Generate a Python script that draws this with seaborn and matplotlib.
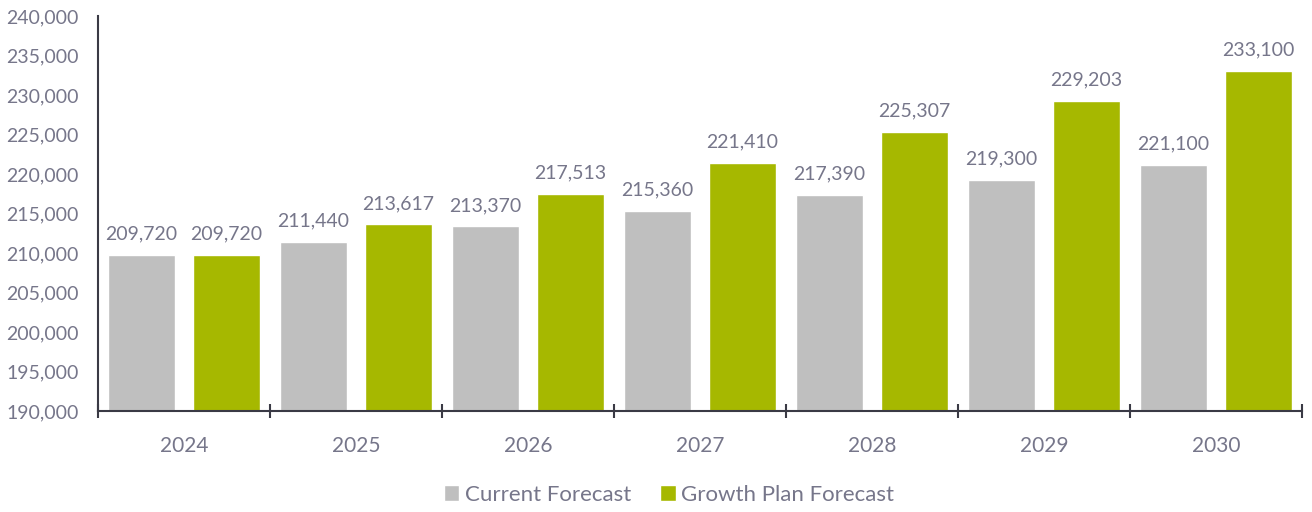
import matplotlib
matplotlib.use("Agg")
import matplotlib.pyplot as plt
import seaborn as sns
import pandas as pd

years = ["2024", "2025", "2026", "2027", "2028", "2029", "2030"]
current = [209720, 211440, 213370, 215360, 217390, 219300, 221100]
growth = [209720, 213617, 217513, 221410, 225307, 229203, 233100]
series = ["Current Forecast", "Growth Plan Forecast"]
colors = ["#BFBFBF", "#A6B800"]

df = pd.DataFrame({
    "year": years * 2,
    "value": current + growth,
    "series": [series[0]] * len(years) + [series[1]] * len(years),
})

sns.set_theme(style="white")
plt.rcParams['font.family'] = ['Lato', 'DejaVu Sans']
txt = "#76768A"
axc = "#3A3A45"

fig = plt.figure(figsize=(13.12, 5.12), dpi=100)
ax = fig.add_axes([98/1312, 1-411/512, (1302-98)/1312, (411-16)/512])
sns.barplot(data=df, x="year", y="value", hue="series", palette=colors,
            width=0.99, gap=0.21, ax=ax, saturation=1, legend=True)

ax.set_ylim(190000, 240000)
ax.set_yticks(range(190000, 240001, 5000))
ax.set_yticklabels([f"{v:,}" for v in range(190000, 240001, 5000)])
ax.set_xlim(-0.5, len(years) - 0.5)
ax.set_xlabel("")
ax.set_ylabel("")

for cont in ax.containers:
    ax.bar_label(cont, labels=[f"{int(v):,}" for v in cont.datavalues],
                 padding=9, color=txt, fontsize=14)

for s in ["top", "right"]:
    ax.spines[s].set_visible(False)
for s in ["left", "bottom"]:
    ax.spines[s].set_color(axc)
    ax.spines[s].set_linewidth(1.5)

ax.tick_params(axis="y", length=0, labelsize=14, labelcolor=txt, pad=14)
ax.tick_params(axis="x", which="major", length=0, labelsize=15, labelcolor=txt, pad=18)
ax.set_xticks([i - 0.5 for i in range(len(years) + 1)], minor=True)
ax.tick_params(axis="x", which="minor", bottom=True, length=10, width=1.5,
               color=axc, direction="inout")

handles, labels = ax.get_legend_handles_labels()
ax.legend_.remove()
fig.legend(handles, labels, loc="center", bbox_to_anchor=(0.51, 1-495/512), ncol=2,
           frameon=False, fontsize=16, labelcolor=txt, handlelength=0.7, handleheight=0.7,
           handletextpad=0.25, columnspacing=1.3)

fig.savefig("out.png", dpi=100)
